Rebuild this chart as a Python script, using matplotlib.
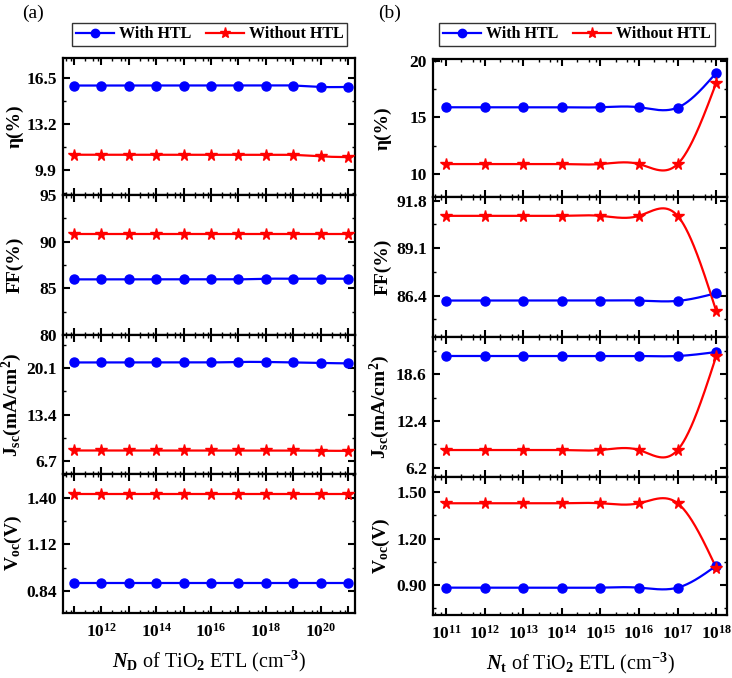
import numpy as np
import matplotlib
matplotlib.use("Agg")
import matplotlib.pyplot as plt
from matplotlib.ticker import MultipleLocator, FormatStrFormatter, FixedLocator, FuncFormatter, LogLocator, NullFormatter
from matplotlib.lines import Line2D

plt.rcParams['font.family'] = ['Liberation Serif', 'DejaVu Serif']
plt.rcParams['font.weight'] = 'bold'
plt.rcParams['mathtext.fontset'] = 'custom'
plt.rcParams['mathtext.rm'] = 'Liberation Serif:bold'
plt.rcParams['mathtext.bf'] = 'Liberation Serif:bold'
plt.rcParams['mathtext.it'] = 'Liberation Serif:italic:bold'
plt.rcParams['mathtext.bfit'] = 'Liberation Serif:italic:bold'

# ---------------- data ----------------
nd_exp = [11, 12, 13, 14, 15, 16, 17, 18, 19, 20, 21]
nt_exp = [11, 12, 13, 14, 15, 16, 17, 18]

eta_with_a = [15.93, 15.93, 15.93, 15.93, 15.93, 15.93, 15.93, 15.93, 15.93, 15.83, 15.83]
eta_without_a = [10.98, 10.98, 10.98, 10.98, 10.98, 10.98, 10.98, 10.98, 10.97, 10.86, 10.81]
ff_with_a = [85.96, 85.96, 85.96, 85.96, 85.96, 85.96, 85.96, 86.03, 86.03, 86.03, 86.03]
ff_without_a = [90.87, 90.87, 90.87, 90.87, 90.87, 90.87, 90.87, 90.87, 90.87, 90.87, 90.87]
jsc_with_a = [20.93, 20.93, 20.93, 20.93, 20.93, 20.93, 21.0, 21.0, 20.93, 20.85, 20.8]
jsc_without_a = [8.2, 8.2, 8.2, 8.2, 8.2, 8.2, 8.2, 8.2, 8.2, 8.16, 8.15]
voc_with_a = [0.885, 0.885, 0.885, 0.885, 0.885, 0.885, 0.885, 0.885, 0.885, 0.885, 0.885]
voc_without_a = [1.424, 1.424, 1.424, 1.424, 1.424, 1.424, 1.424, 1.424, 1.424, 1.424, 1.424]

eta_with_b = [15.9, 15.9, 15.9, 15.9, 15.9, 15.9, 15.87, 18.93]
eta_without_b = [10.9, 10.9, 10.9, 10.9, 10.9, 10.9, 10.9, 18.04]
ff_with_b = [86.12, 86.12, 86.12, 86.12, 86.12, 86.12, 86.1, 86.54]
ff_without_b = [90.93, 90.93, 90.93, 90.93, 90.93, 90.93, 90.93, 85.53]
jsc_with_b = [21.03, 21.03, 21.03, 21.03, 21.03, 21.03, 21.03, 21.56]
jsc_without_b = [8.55, 8.55, 8.55, 8.55, 8.55, 8.55, 8.55, 21.0]
voc_with_b = [0.883, 0.883, 0.883, 0.883, 0.883, 0.883, 0.883, 1.025]
voc_without_b = [1.429, 1.429, 1.429, 1.429, 1.429, 1.429, 1.429, 1.012]

ylabels = [r'η(%)', 'FF(%)', r'$\mathbf{J_{sc}(mA/cm^2)}$', r'$\mathbf{V_{oc}(V)}$']
legend_labels = ['With HTL', 'Without HTL']
xlabel_a = r'$\mathbfit{N}_{\mathbf{D}}$ of TiO$_\mathbf{2}$ ETL (cm$^{\mathbf{-3}}$)'
xlabel_b = r'$\mathbfit{N}_{\mathbf{t}}$ of TiO$_\mathbf{2}$ ETL (cm$^{\mathbf{-3}}$)'

BLUE = '#0000FF'
RED = '#FF0000'


def natural_spline(xk, yk, n=400):
    xk = np.asarray(xk, float)
    yk = np.asarray(yk, float)
    m = len(xk)
    h = np.diff(xk)
    A = np.zeros((m, m))
    r = np.zeros(m)
    A[0, 0] = 1
    A[-1, -1] = 1
    for i in range(1, m - 1):
        A[i, i - 1] = h[i - 1]
        A[i, i] = 2 * (h[i - 1] + h[i])
        A[i, i + 1] = h[i]
        r[i] = 6 * ((yk[i + 1] - yk[i]) / h[i] - (yk[i] - yk[i - 1]) / h[i - 1])
    M = np.linalg.solve(A, r)
    xs = np.linspace(xk[0], xk[-1], n)
    idx = np.clip(np.searchsorted(xk, xs) - 1, 0, m - 2)
    x0, x1 = xk[idx], xk[idx + 1]
    hh = x1 - x0
    a = (x1 - xs) / hh
    b = (xs - x0) / hh
    ys = a * yk[idx] + b * yk[idx + 1] + ((a ** 3 - a) * M[idx] + (b ** 3 - b) * M[idx + 1]) * hh ** 2 / 6
    return xs, ys


def draw(ax, exps, yw, ywo):
    xe = np.asarray(exps, float)
    for y, c, mk, ms in [(yw, BLUE, 'o', 6.5), (ywo, RED, '*', 8.5)]:
        xs, ys = natural_spline(xe, y)
        ax.plot(10 ** xs, ys, color=c, lw=1.6, zorder=2)
        ax.plot(10 ** xe, y, ls='none', marker=mk, color=c, ms=ms, zorder=3)


def style(ax):
    ax.set_xscale('log')
    ax.tick_params(which='both', direction='in', top=True, right=True, labelsize=12.5)
    ax.tick_params(which='major', length=5, width=1.5)
    ax.tick_params(which='minor', length=2.5, width=1.0)
    ax.tick_params(axis='y', pad=4.5)
    ax.tick_params(axis='x', pad=7)
    for s in ax.spines.values():
        s.set_linewidth(1.6)


W, H = 732.0, 678.0
fig = plt.figure(figsize=(7.32, 6.78), dpi=100)


def make_axes(x0, x1, ybounds):
    axs = []
    for i in range(4):
        top, bot = ybounds[i], ybounds[i + 1]
        axs.append(fig.add_axes([x0 / W, 1 - bot / H, (x1 - x0) / W, (bot - top) / H]))
    return axs


axa = make_axes(63, 355, [58, 195, 335, 474, 613])
axb = make_axes(433, 727, [59, 197, 337, 477, 615])

series_a = [(eta_with_a, eta_without_a), (ff_with_a, ff_without_a),
            (jsc_with_a, jsc_without_a), (voc_with_a, voc_without_a)]
series_b = [(eta_with_b, eta_without_b), (ff_with_b, ff_without_b),
            (jsc_with_b, jsc_without_b), (voc_with_b, voc_without_b)]

ylim_a = [(8.1, 17.9), (80, 95), (4.8, 24.9), (0.704, 1.548)]
maj_a = [3.3, 5, 6.7, 0.28]
fmt_a = ['%.1f', '%g', '%.1f', '%.2f']
ylim_b = [(8.0, 20.15), (84.05, 92.0), (4.97, 23.55), (0.706, 1.599)]
maj_b = [5, 2.7, 6.2, 0.3]
fmt_b = ['%g', '%.1f', '%.1f', '%.2f']

for i, ax in enumerate(axa):
    draw(ax, nd_exp, *series_a[i])
    ax.set_xlim(10 ** 10.6, 10 ** 21.25)
    ax.set_ylim(*ylim_a[i])
    ax.yaxis.set_major_locator(MultipleLocator(maj_a[i]))
    ax.yaxis.set_minor_locator(MultipleLocator(maj_a[i] / 2))
    ax.yaxis.set_major_formatter(FormatStrFormatter(fmt_a[i]))
    style(ax)
    ax.xaxis.set_major_locator(FixedLocator([10.0 ** e for e in range(11, 22)]))
    ax.xaxis.set_minor_locator(LogLocator(base=10, subs=(2.5, 5.0, 7.5), numticks=30))
    ax.xaxis.set_minor_formatter(NullFormatter())
    if i < 3:
        ax.xaxis.set_major_formatter(NullFormatter())
    else:
        ax.xaxis.set_major_formatter(FuncFormatter(
            lambda v, p: (r'$\mathbf{10^{%d}}$' % round(np.log10(v))) if round(np.log10(v)) % 2 == 0 else ''))
    ax.set_ylabel(ylabels[i], fontsize=14, fontweight='bold')
    ax.yaxis.set_label_coords(-0.135, 0.5)

for i, ax in enumerate(axb):
    draw(ax, nt_exp, *series_b[i])
    ax.set_xlim(10 ** 10.66, 10 ** 18.28)
    ax.set_ylim(*ylim_b[i])
    ax.yaxis.set_major_locator(MultipleLocator(maj_b[i]))
    ax.yaxis.set_minor_locator(MultipleLocator(maj_b[i] / 2))
    ax.yaxis.set_major_formatter(FormatStrFormatter(fmt_b[i]))
    style(ax)
    ax.xaxis.set_major_locator(FixedLocator([10.0 ** e for e in range(11, 19)]))
    ax.xaxis.set_minor_locator(LogLocator(base=10, subs=(2.5, 5.0, 7.5), numticks=30))
    ax.xaxis.set_minor_formatter(NullFormatter())
    if i < 3:
        ax.xaxis.set_major_formatter(NullFormatter())
    else:
        ax.xaxis.set_major_formatter(FuncFormatter(
            lambda v, p: r'$\mathbf{10^{%d}}$' % round(np.log10(v))))
    ax.set_ylabel(ylabels[i], fontsize=14, fontweight='bold')
    ax.yaxis.set_label_coords(-0.14, 0.5)

axa[3].set_xlabel(xlabel_a, fontsize=14.5, labelpad=6)
axb[3].set_xlabel(xlabel_b, fontsize=14.5, labelpad=6)

handles = [Line2D([], [], color=BLUE, marker='o', lw=1.6, ms=6),
           Line2D([], [], color=RED, marker='*', lw=1.6, ms=8)]
for cx in [209.5 / W, 577 / W]:
    leg = fig.legend(handles, legend_labels, loc='center', bbox_to_anchor=(cx, 1 - 34.5 / H),
                     ncol=2, frameon=True, fancybox=False, edgecolor='black',
                     prop={'family': 'Liberation Serif', 'weight': 'bold', 'size': 11.5},
                     handlelength=2.4, columnspacing=0.9, handletextpad=0.3,
                     borderpad=0.25, borderaxespad=0)
    leg.get_frame().set_linewidth(1.0)

fig.text(33 / W, 1 - 13 / H, '(a)', fontsize=14, fontweight='normal', ha='center', va='center')
fig.text(390 / W, 1 - 13 / H, '(b)', fontsize=14, fontweight='normal', ha='center', va='center')

fig.savefig('out.png', dpi=100)
